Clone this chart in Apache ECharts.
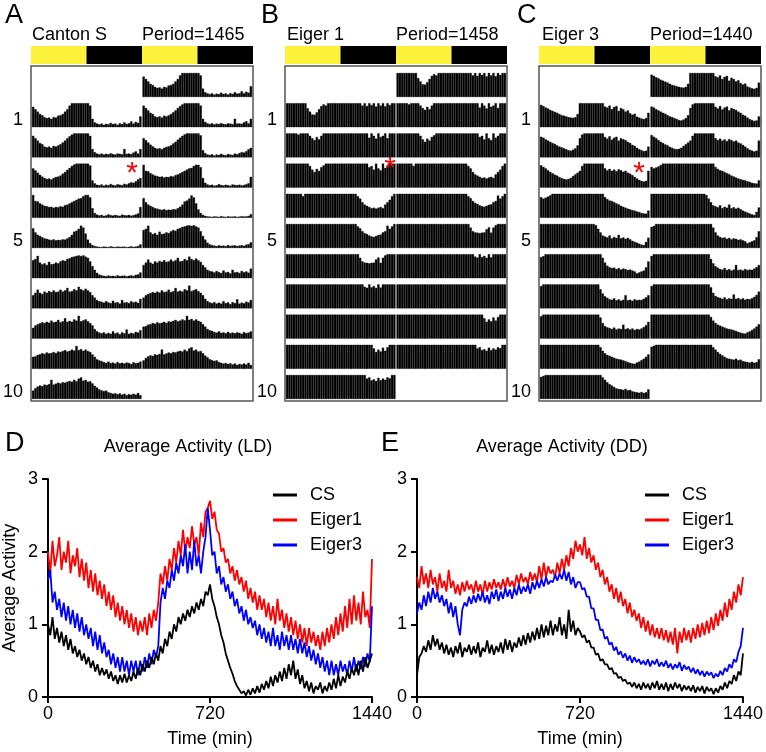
<!DOCTYPE html>
<html><head><meta charset="utf-8">
<script src="https://cdn.jsdelivr.net/npm/echarts@6/dist/echarts.min.js"></script>
<style>html,body{margin:0;padding:0;background:#fff}#c{width:766px;height:752px}</style>
</head><body><div id="c"></div>
<script>
// ---------------- DATA ----------------
const panelLetters = ['A', 'B', 'C'];
const genotypeNames = ['Canton S', 'Eiger 1', 'Eiger 3'];
const periodLabels = ['Period=1465', 'Period=1458', 'Period=1440'];
const ldPhases = ['light', 'dark', 'light', 'dark'];
const ldPhaseMinutes = [720, 720, 720, 720];
const rowLabels = { 1: '1', 5: '5', 10: '10' };

// Actogram activity, 48 half-hour bins per day, scale 0-10 (10 = full row height)
const csDays = [
 [8.5,7.5,6.5,5.5,5,4.2,3.8,4,3.5,4.2,4,4.8, 5,5.5,6.5,7.5,9,10,10,10,10,10,10,10, 10,9,3.5,2,1.5,1.2,1.5,1,1.4,1.2,1.8,1.3, 1.5,1,1.6,1.3,2,1.4,1.6,2.4,1.5,2.2,1.8,4.5],
 [9,8,7,6,5.5,4.5,4.2,4.5,4,4.8,4.5,5, 5.5,6.2,7,8,8.8,9.5,10,10,10,10,10,10, 10,9,3.5,2.2,1.6,1.3,1.6,1.2,1.5,1.3,1.7,1.4, 1.2,1.6,1.5,1.3,3.5,1.5,1.6,1.4,2,2.5,1.6,3.5],
 [8,7.2,6.2,5.3,4.6,4,3.6,3.8,3.4,4,4.4,4.6, 5,5.8,6.5,7.4,8.2,9,9.6,10,10,10,10,10, 10,9.2,3,1.8,1.2,1,1.3,0.8,1.2,1,1.5,1.1, 0.9,1.4,1.2,1,1.6,1.3,1.8,2.2,2,2.6,3.4,4],
 [9.5,7,6.8,6,5.5,5,4.8,4.5,4.6,4.2,4.5,4.4, 4.8,4.6,5.2,5.5,6,6.5,7,7.5,8,8.2,9,9.5, 9.5,8.5,4,2,1.3,1,1.2,0.8,1,1.4,1.1,0.9, 1.2,1,0.8,1.3,1.1,1,1.2,0.9,1.1,1.4,1.8,4.5],
 [8.2,6.5,5.5,5,4.5,4,3.8,3.5,3.3,3.6,3.2,3.4, 3.3,3.6,3.5,4,4.6,5.5,6.8,7.2,8,9.3,8.5,6, 3.5,2,1.2,0.8,0.6,0.5,0.4,0.6,0.5,0.4,0.7,0.5, 0.4,0.6,0.5,0.5,0.6,0.4,0.5,0.7,0.5,0.6,0.8,1.5],
 [7.5,8,9.3,6.5,5.8,6.2,5.5,6.8,5.8,6,6.5,6.2, 7,7.5,7.2,8,8.3,8.8,9,9.3,9.5,9.2,9.5,9, 8.5,7,5,3.5,2.2,1.5,1.2,1,0.8,1.1,0.9,1, 0.8,1.2,0.9,1,1.1,0.8,1,1.2,0.9,1.4,1.6,2.4],
 [5.5,6.5,7.8,6.5,6,7,6.5,7.2,6.8,7.5,6.8,7, 7.8,7,7.5,8.5,7,7.2,8,7.5,9,8,7.5,8.2, 7.5,6.8,5.5,4.5,3.5,3,2.8,2.4,3,2.5,2.2,3.2, 2.4,2.6,2,3.5,2.4,2.6,2.2,3,2.5,2.8,2.3,4],
 [4.5,5.5,6,6.4,6.8,6.5,7,6.6,7.5,6.8,7,7.8, 6.8,7.2,8.5,7,7.4,7,8,7.5,9.5,7.2,7.6,8, 7.2,6.5,5.5,4,3,2.5,2.2,2.6,2,2.4,2,3, 2.2,2.5,1.8,2.6,2.2,3.8,2,2.4,2.1,2.8,2.5,3.5],
 [5,5.2,5.8,6,6.5,6.2,6.8,6.4,6.6,7,6.5,7.2, 7,7.4,7.8,7.2,7.5,8,7.6,9.5,7.8,8.2,7.5,8, 7.4,7,6,5,4,3.5,3.2,2.8,2.5,3,2.4,2.6, 2.2,2.8,2.3,2.5,2.2,2.6,2.4,2,2.7,2.3,2.5,3],
 [3.5,4.5,5.2,5.6,5.4,6,5.8,6.2,8,6,6.4,6.8, 6.5,7,6.8,7.2,7.5,7.2,8,7.4,8.5,9,7.6,8, 7.2,7.4,6.5,5.5,4.8,4,3.6,3.3,3.5,2.8,2.5,2.2, 2.4,2,2.3,1.8,2.2,1.6,2,1.8,2.2,1.8,2.5,1.6]
];
const eiger1Days = [
 [10,10,10,10,10,10,10,10,10,7.9,6.5,5.3, 5.2,6.2,7.5,8.8,9.5,9,10,10,10,10,10,10, 10,10,10,10,10,10,10,10,10,9,10,8.8, 10,9.2,10,8.6,10,9,10,8.7,10,9.2,10,10],
 [10,10,10,10,10,9.5,10,10,10,10,9,8, 7.2,8.5,7.5,9,10,10,10,10,10,10,10,10, 10,10,10,10,10,10,10,10,10,10,10,10, 8.2,10,9,7.8,10,8.5,9,10,8,10,10,10],
 [10,10,10,10,10,10,10,10,10,10,9,7.5, 6.5,7.8,7,8.5,9.2,10,10,10,10,10,10,10, 10,10,10,10,10,10,10,10,10,10,10,10, 8.5,9,7.5,10,8,7.2,10,8.2,9,10,10,10],
 [10,10,10,10,10,10,10,9,10,10,10,10, 10,10,10,10,10,10,10,10,10,10,10,10, 10,10,10,10,10,10,10,9,8,6.5,5.5,5, 4.5,4,4.2,3.8,4.2,4.5,4,5.5,6.5,7.5,9,10],
 [10,10,10,10,10,10,10,10,10,10,10,10, 10,10,10,10,10,10,10,10,10,10,10,10, 10,10,10,10,10,10,10,9,8.2,7,6.2,5.8, 5.2,4.8,4.6,5,5.4,5.6,6.5,7,9.3,8,9,10],
 [10,10,10,10,10,10,10,10,10,10,10,10, 10,10,10,10,10,10,10,10,10,10,10,10, 10,10,10,10,10,10,10,10,8.5,7,6.5,6.4, 6.2,6.4,6.5,7.8,8.6,6.4,8.5,9.5,10,10,10,10],
 [10,10,10,10,10,10,10,10,10,10,10,10, 10,10,10,10,10,10,10,10,10,10,10,10, 10,10,10,10,10,10,10,10,10,10,9,8.6, 10,8.8,9.3,8.5,10,8.7,10,10,10,10,10,10],
 [10,10,10,10,10,10,10,10,10,10,10,10, 10,10,10,10,10,10,10,10,10,10,10,10, 10,10,10,10,10,10,10,10,10,10,10,10, 10,10,10,10,10,10,10,10,10,10,10,10],
 [10,10,10,10,10,10,10,10,10,10,10,10, 10,10,10,10,10,10,10,10,10,10,10,10, 10,10,10,10,10,10,10,10,10,10,10,10, 10,10,8.5,7,8,7.2,8.8,7.5,9,10,10,10],
 [10,10,10,10,10,10,10,10,10,10,10,10, 10,10,10,10,10,10,10,10,10,10,10,10, 10,10,10,10,10,10,10,10,10,10,10,8.5, 9,7.8,8.2,7.5,8.8,7.8,8.5,8,9,8.6,10,10]
];
const eiger3Days = [
 [9.3,8.8,8.2,7.8,7.2,6.8,6.4,6,5.5,5,4.8,4.5, 4.2,4,3.9,4.2,5.5,10,10,10,10,10,10,10, 10,10,10,10,8.6,8.2,9,7.5,8.4,8.8,6.8,8, 7.5,6.5,7,5.8,5.2,5.6,4.4,4,3.6,3.4,3.8,6],
 [8.6,8.2,7.5,7,6.5,6,5.6,5,4.5,4.2,3.8,3.4, 3,2.8,3.2,3.8,5,8,9.5,10,10,10,10,10, 10,10,10,10,8.5,7.8,8.8,7.4,8.2,8.6,7,8, 7.6,7.2,6.5,6,5.2,4.8,4,3.4,3,2.6,2.8,4.5],
 [9.3,8.6,8,7.2,6.5,6,5.4,5,4.4,4,3.6,3.4, 3.6,4,4.8,5.5,6.2,7,9,10,10,10,10,10, 10,10,10,10,8,7.2,7.8,7,7.5,6.8,7.6,7.2, 6.6,7,6.2,5.8,5.2,4.5,3.8,3.2,2.8,2.5,2.8,7],
 [8.6,8,8.4,8.8,9.4,10,10,10,10,10,10,10, 10,10,10,10,10,10,10,10,10,10,10,10, 10,10,10,10,8.6,7.8,7.2,7,6.5,6,5.6,5, 4.6,4.2,3.8,3.5,3.2,3,2.6,2.4,2,1.8,1.7,3],
 [10,10,10,10,10,10,10,10,10,10,10,10, 10,10,10,10,10,10,10,10,10,10,10,10, 9.5,8,6.5,5.2,4.8,4.4,5.2,4,4.6,4.2,5.5,4, 4.4,3.8,4.2,3.6,3,2.6,2.2,1.8,1.4,1.2,2.5,4.3],
 [8.8,9.2,10,10,10,10,10,10,10,10,10,10, 10,10,10,10,10,10,10,10,10,10,10,10, 10,10,10,8.5,6.5,5.2,4.6,4.2,4.4,3.8,4.2,3.6, 4,3.8,3.4,3.6,3.2,2.8,2,2.4,2.8,3.2,4.5,7],
 [9.3,10,10,10,10,10,10,10,10,10,10,10, 10,10,10,10,10,10,10,10,10,10,10,10, 10,10,8,6.2,5,4.4,3.8,3.6,4.2,3.4,3.8,3.2, 3.6,5.5,3.4,3.6,3.2,3.8,3.4,3.6,3.5,4,4.6,5.5],
 [9.3,10,10,10,10,10,10,10,10,10,10,10, 10,10,10,10,10,10,10,10,10,10,10,10, 10,10,8.8,6.5,5.2,4.7,4.4,4,4.6,3.8,4.2,4, 5.8,4,4.3,3.8,4.2,3.6,4,3.8,4.2,4.8,5.6,7],
 [10,10,10,10,10,10,10,10,10,10,10,10, 10,10,10,10,10,10,10,10,10,10,10,10, 10,10,9,7.5,6.5,5.8,5.4,5,4.6,4.2,4,3.8, 3.5,3.2,2.8,2.5,2.2,2.1,2.6,3,3.6,4.2,5,6],
 [9.2,9.6,10,10,10,10,10,10,10,10,10,10, 10,10,10,10,10,10,10,10,10,10,10,10, 10,10,10,9,8,7,6.2,5.6,5,4.4,4.2,4, 3.8,4.2,3.6,3.8,3.2,3,2.8,2.6,2.9,2.5,2.8,4]
];

// Average activity, one value every 10 min from 0 to 1440
const sampleStepMin = 10;
const seriesNames = ['CS', 'Eiger1', 'Eiger3'];
const ldCS = [
 1.0,0.85,1.1,0.8,0.95,0.75,0.9,0.7,0.85,0.65,0.8,0.6,
 0.7,0.55,0.65,0.5,0.6,0.45,0.55,0.4,0.5,0.35,0.45,0.3,
 0.4,0.3,0.38,0.25,0.35,0.22,0.3,0.18,0.3,0.2,0.32,0.2,
 0.3,0.22,0.35,0.25,0.4,0.3,0.45,0.35,0.5,0.4,0.55,0.45,
 0.6,0.5,0.7,0.6,0.8,0.7,0.9,0.8,1.0,0.9,1.1,1.0,
 1.15,1.05,1.2,1.1,1.25,1.15,1.3,1.2,1.35,1.25,1.45,1.4,
 1.55,1.35,1.25,1.1,1.0,0.85,0.75,0.6,0.5,0.4,0.32,0.22,
 0.15,0.1,0.05,0.08,0.02,0.1,0.03,0.12,0.05,0.15,0.06,0.18,
 0.1,0.22,0.12,0.28,0.15,0.3,0.2,0.35,0.22,0.4,0.25,0.45,
 0.3,0.5,0.25,0.38,0.18,0.3,0.12,0.22,0.08,0.2,0.05,0.15,
 0.1,0.2,0.05,0.15,0.08,0.2,0.1,0.25,0.12,0.3,0.15,0.28,
 0.2,0.35,0.25,0.4,0.3,0.45,0.3,0.5,0.35,0.55,0.4,0.5,
 0.6];
const ldEiger1 = [
 2.0,1.7,2.15,1.8,1.95,2.2,1.75,2.0,1.85,2.15,1.7,1.95,
 1.8,2.05,1.65,1.9,1.6,1.85,1.5,1.75,1.45,1.7,1.4,1.6,
 1.35,1.55,1.25,1.45,1.2,1.4,1.1,1.3,1.05,1.25,1.0,1.2,
 0.95,1.15,0.9,1.1,0.85,1.05,0.9,1.1,0.85,1.15,0.95,1.2,
 1.05,1.3,1.7,1.55,1.8,1.6,1.9,1.75,2.05,1.85,2.15,1.95,
 2.3,2.0,2.2,2.05,2.35,2.1,2.2,1.95,2.4,2.2,2.55,2.6,
 2.7,2.45,2.55,2.3,2.25,2.0,2.05,1.85,1.9,1.7,1.8,1.6,
 1.75,1.55,1.65,1.45,1.6,1.35,1.5,1.3,1.45,1.2,1.4,1.2,
 1.35,1.1,1.3,1.05,1.25,1.0,1.35,1.05,1.2,0.95,1.15,0.9,
 1.1,0.85,1.05,0.8,1.0,0.75,0.95,0.7,0.95,0.75,0.9,0.7,
 0.85,0.65,0.9,0.7,0.95,0.75,1.0,0.8,1.1,0.85,1.15,0.9,
 1.25,0.95,1.35,1.0,1.4,1.05,1.3,1.0,1.45,1.1,1.2,0.95,
 1.9];
const ldEiger3 = [
 1.6,1.75,1.3,1.45,1.2,1.35,1.1,1.3,1.05,1.25,1.0,1.2,
 0.95,1.15,0.9,1.1,0.85,1.0,0.8,0.95,0.7,0.9,0.65,0.85,
 0.6,0.75,0.55,0.65,0.45,0.6,0.4,0.55,0.35,0.55,0.35,0.5,
 0.3,0.5,0.35,0.5,0.3,0.5,0.35,0.55,0.4,0.6,0.45,0.65,
 0.55,0.7,1.3,1.5,1.35,1.6,1.5,1.75,1.6,1.85,1.7,1.95,
 1.8,2.1,1.7,2.0,1.75,2.15,1.8,1.95,1.7,2.0,2.2,2.6,
 2.3,1.95,2.0,1.7,1.8,1.55,1.65,1.45,1.55,1.35,1.45,1.25,
 1.35,1.15,1.25,1.05,1.2,1.0,1.1,0.95,1.05,0.85,1.0,0.8,
 0.95,0.75,0.9,0.7,0.95,0.7,0.85,0.65,0.9,0.7,0.85,0.65,
 0.85,0.65,0.8,0.6,0.8,0.6,0.75,0.55,0.7,0.5,0.65,0.45,
 0.6,0.4,0.55,0.35,0.5,0.3,0.5,0.3,0.45,0.3,0.5,0.35,
 0.45,0.3,0.5,0.35,0.55,0.35,0.5,0.38,0.55,0.42,0.6,0.48,
 1.25];
const ddCS = [
 0.3,0.55,0.6,0.7,0.62,0.78,0.65,0.85,0.7,0.8,0.65,0.75,
 0.6,0.72,0.58,0.68,0.55,0.7,0.6,0.75,0.55,0.68,0.62,0.72,
 0.58,0.7,0.6,0.75,0.55,0.68,0.62,0.78,0.6,0.72,0.58,0.7,
 0.62,0.75,0.6,0.8,0.65,0.78,0.62,0.75,0.68,0.82,0.7,0.85,
 0.72,0.88,0.75,0.9,0.78,0.95,0.8,1.0,0.82,0.98,0.85,1.05,
 0.85,1.0,0.9,1.1,0.85,1.0,0.8,1.2,0.9,1.05,0.85,0.95,
 0.9,0.82,0.85,0.75,0.78,0.68,0.68,0.58,0.6,0.5,0.52,0.45,
 0.45,0.38,0.4,0.32,0.33,0.26,0.28,0.22,0.24,0.18,0.2,0.14,
 0.2,0.12,0.18,0.1,0.2,0.12,0.18,0.1,0.2,0.12,0.22,0.1,
 0.18,0.1,0.2,0.08,0.18,0.1,0.2,0.12,0.18,0.08,0.16,0.1,
 0.15,0.08,0.16,0.06,0.14,0.08,0.15,0.05,0.14,0.08,0.12,0.04,
 0.12,0.06,0.15,0.1,0.2,0.12,0.22,0.18,0.3,0.22,0.35,0.3,
 0.6];
const ddEiger1 = [
 1.65,1.5,1.8,1.55,1.7,1.5,1.75,1.55,1.65,1.45,1.7,1.5,
 1.6,1.45,1.75,1.5,1.6,1.42,1.55,1.4,1.58,1.45,1.6,1.48,
 1.55,1.42,1.6,1.45,1.55,1.4,1.6,1.45,1.58,1.48,1.62,1.5,
 1.58,1.48,1.62,1.5,1.65,1.52,1.6,1.5,1.68,1.55,1.7,1.58,
 1.65,1.55,1.72,1.6,1.7,1.58,1.8,1.62,1.85,1.65,1.8,1.7,
 1.75,1.65,1.85,1.7,1.9,1.75,1.95,1.8,2.05,1.9,2.15,2.0,
 2.1,1.95,2.2,1.9,2.05,1.85,1.95,1.75,1.85,1.65,1.75,1.55,
 1.65,1.45,1.55,1.35,1.5,1.3,1.45,1.25,1.35,1.15,1.3,1.1,
 1.2,1.05,1.15,0.95,1.1,0.9,1.05,0.85,1.0,0.82,0.95,0.8,
 0.95,0.78,0.92,0.75,0.9,0.72,0.95,0.6,0.9,0.75,0.95,0.78,
 0.92,0.75,0.95,0.8,1.0,0.82,1.02,0.85,1.05,0.88,1.1,0.92,
 1.15,0.98,1.2,1.05,1.3,1.1,1.35,1.2,1.45,1.3,1.55,1.4,
 1.65];
const ddEiger3 = [
 1.15,1.3,1.2,1.4,1.25,1.45,1.3,1.5,1.35,1.45,1.3,1.4,
 1.25,1.35,1.15,1.3,1.1,1.25,1.0,0.85,1.2,1.3,1.25,1.38,
 1.28,1.4,1.3,1.42,1.32,1.45,1.3,1.4,1.28,1.45,1.35,1.48,
 1.32,1.45,1.35,1.5,1.38,1.48,1.35,1.5,1.4,1.55,1.42,1.52,
 1.45,1.55,1.42,1.58,1.48,1.6,1.5,1.62,1.52,1.65,1.55,1.6,
 1.58,1.68,1.6,1.7,1.62,1.75,1.6,1.72,1.55,1.65,1.5,1.58,
 1.58,1.48,1.5,1.38,1.38,1.22,1.22,1.06,1.06,0.92,0.93,0.8,
 0.83,0.72,0.75,0.64,0.69,0.58,0.63,0.54,0.6,0.5,0.57,0.47,
 0.55,0.48,0.52,0.45,0.5,0.44,0.52,0.42,0.5,0.45,0.52,0.42,
 0.48,0.42,0.5,0.4,0.46,0.38,0.45,0.4,0.48,0.36,0.44,0.38,
 0.42,0.34,0.4,0.32,0.38,0.3,0.36,0.28,0.35,0.3,0.34,0.26,
 0.32,0.28,0.36,0.3,0.4,0.35,0.45,0.4,0.52,0.48,0.62,0.7,
 0.95];
const xTickValues = [0, 720, 1440];
const yTickValues = [0, 1, 2, 3];

// ---------------- LAYOUT / STYLE ----------------
const FONT = '"Liberation Sans", Arial, Helvetica, sans-serif';
const activityDays = [csDays, eiger1Days, eiger3Days];
const panelLeft = [31, 285, 539];
const panelWidth = 222;
const frameTop = 66, frameBottom = 401;
const rowBottom0 = 97, rowPitch = 30.2, rowBarH = 24, rowCount = 11;
const halfW = 109.5, halfGap = 1;
const ldTop = 46, ldHeight = 18;
const lightColor = '#fdf23b', darkColor = '#000000';
const lineColors = { CS: '#000000', Eiger1: '#ff0000', Eiger3: '#0000ff' };
const bins = Array.from({ length: 48 }, (_, i) => String(i));

const grid = [], xAxis = [], yAxis = [], series = [], graphic = [];
function addGrid(g, xa, ya) {
  const i = grid.length;
  grid.push(g);
  xAxis.push(Object.assign({ gridIndex: i }, xa));
  yAxis.push(Object.assign({ gridIndex: i }, ya));
  return i;
}
function txt(x, y, text, size, opts) {
  opts = opts || {};
  graphic.push({
    type: 'text', x: x, y: y, silent: true, z: 100,
    style: { text: text, fontSize: size, fontFamily: FONT, fill: opts.fill || '#000',
      align: opts.align || 'left', verticalAlign: 'middle' }
  });
}

for (let p = 0; p < 3; p++) {
  const L = panelLeft[p];
  addGrid({ left: L, top: frameTop, width: panelWidth, height: frameBottom - frameTop, show: true,
            borderColor: '#555', borderWidth: 1.5, backgroundColor: 'transparent' },
          { type: 'value', show: false, min: 0, max: 1 }, { type: 'value', show: false, min: 0, max: 1 });
  const gi = addGrid({ left: L, top: ldTop, width: panelWidth, height: ldHeight },
          { type: 'value', show: false, min: 0, max: ldPhaseMinutes.reduce((a, b) => a + b, 0) },
          { type: 'category', show: false, data: ['LD'] });
  ldPhases.forEach((ph, k) => {
    series.push({ type: 'bar', xAxisIndex: gi, yAxisIndex: gi, stack: 'ld' + p, barWidth: '100%',
      data: [ldPhaseMinutes[k]], silent: true,
      itemStyle: { color: ph === 'light' ? lightColor : darkColor } });
  });
  const days = activityDays[p];
  for (let r = 0; r < rowCount; r++) {
    for (let h = 0; h < 2; h++) {
      const d = r - 1 + h;
      if (d < 0 || d >= days.length) continue;
      const top = rowBottom0 + r * rowPitch - rowBarH;
      const g = addGrid({ left: L + 1 + h * (halfW + halfGap), top: top, width: halfW, height: rowBarH },
        { type: 'category', show: false, data: bins },
        { type: 'value', show: false, min: 0, max: 10 });
      series.push({ type: 'bar', xAxisIndex: g, yAxisIndex: g, data: days[d], barCategoryGap: '0%',
        silent: true, itemStyle: { color: '#000', borderColor: '#000', borderWidth: 0.35 } });
    }
    if (rowLabels[r]) {
      txt(L - 8, rowBottom0 + r * rowPitch - rowBarH / 2 + 5, rowLabels[r], 18, { align: 'right' });
    }
  }
  txt([5, 261, 517][p], 16, panelLetters[p], 27);
  txt([32, 287, 542][p], 35.5, genotypeNames[p], 18);
  txt(L + 111, 35.5, periodLabels[p], 18);
}
txt(132, 174, '*', 30, { fill: '#ff0000', align: 'center' });
txt(390, 169, '*', 30, { fill: '#ff0000', align: 'center' });
txt(639, 174, '*', 30, { fill: '#ff0000', align: 'center' });

const lineSets = [
  { left: 45, title: 'Average Activity (LD)', letter: 'D', letterX: 5, titleX: 188, data: { CS: ldCS, Eiger1: ldEiger1, Eiger3: ldEiger3 }, yName: 'Average Activity', legendLeft: 268 },
  { left: 417, title: 'Average Activity (DD)', letter: 'E', letterX: 381, titleX: 562, data: { CS: ddCS, Eiger1: ddEiger1, Eiger3: ddEiger3 }, yName: '', legendLeft: 640 }
];
const axisLineStyle = { color: '#000', width: 2 };
const legends = [];
lineSets.forEach(ls => {
  const g = addGrid({ left: ls.left, top: 479, width: 327, height: 218 },
    { type: 'value', min: xTickValues[0], max: xTickValues[2], interval: xTickValues[1] - xTickValues[0],
      axisLine: { show: true, lineStyle: axisLineStyle }, axisTick: { show: true, length: 6, lineStyle: axisLineStyle },
      axisLabel: { fontSize: 18, color: '#000', margin: 8, fontFamily: FONT, formatter: v => String(v) },
      splitLine: { show: false },
      name: 'Time (min)', nameLocation: 'middle', nameGap: 33, nameTextStyle: { fontSize: 18, color: '#000', fontFamily: FONT } },
    { type: 'value', min: yTickValues[0], max: yTickValues[3], interval: 1,
      axisLine: { show: true, lineStyle: axisLineStyle }, axisTick: { show: true, length: 6, lineStyle: axisLineStyle },
      axisLabel: { fontSize: 18, color: '#000', margin: 10, fontFamily: FONT, formatter: v => String(v) },
      splitLine: { show: false },
      name: ls.yName, nameLocation: 'middle', nameGap: 29, nameRotate: 90,
      nameTextStyle: { fontSize: 18, color: '#000', fontFamily: FONT } });
  ['Eiger1', 'Eiger3', 'CS'].forEach(nm => {
    series.push({ type: 'line', name: nm, xAxisIndex: g, yAxisIndex: g, showSymbol: false, symbol: 'none',
      silent: true, color: lineColors[nm], lineStyle: { width: 1.8, color: lineColors[nm] },
      data: ls.data[nm].map((v, i) => [i * sampleStepMin, v]) });
  });
  legends.push({ data: seriesNames, orient: 'vertical', left: ls.legendLeft, top: 481, itemWidth: 24, itemHeight: 3,
    itemGap: 7, icon: 'rect', selectedMode: false,
    textStyle: { fontSize: 18, color: '#000', fontFamily: FONT, padding: [0, 0, 0, 8] } });
  txt(ls.letterX, 444, ls.letter, 27);
  txt(ls.titleX, 447, ls.title, 18, { align: 'center' });
});

const chart = echarts.init(document.getElementById('c'), null, { renderer: 'canvas' });
chart.setOption({
  animation: false,
  backgroundColor: '#ffffff',
  textStyle: { fontFamily: FONT },
  grid: grid, xAxis: xAxis, yAxis: yAxis, series: series, legend: legends,
  graphic: { elements: graphic }
});
</script></body></html>
